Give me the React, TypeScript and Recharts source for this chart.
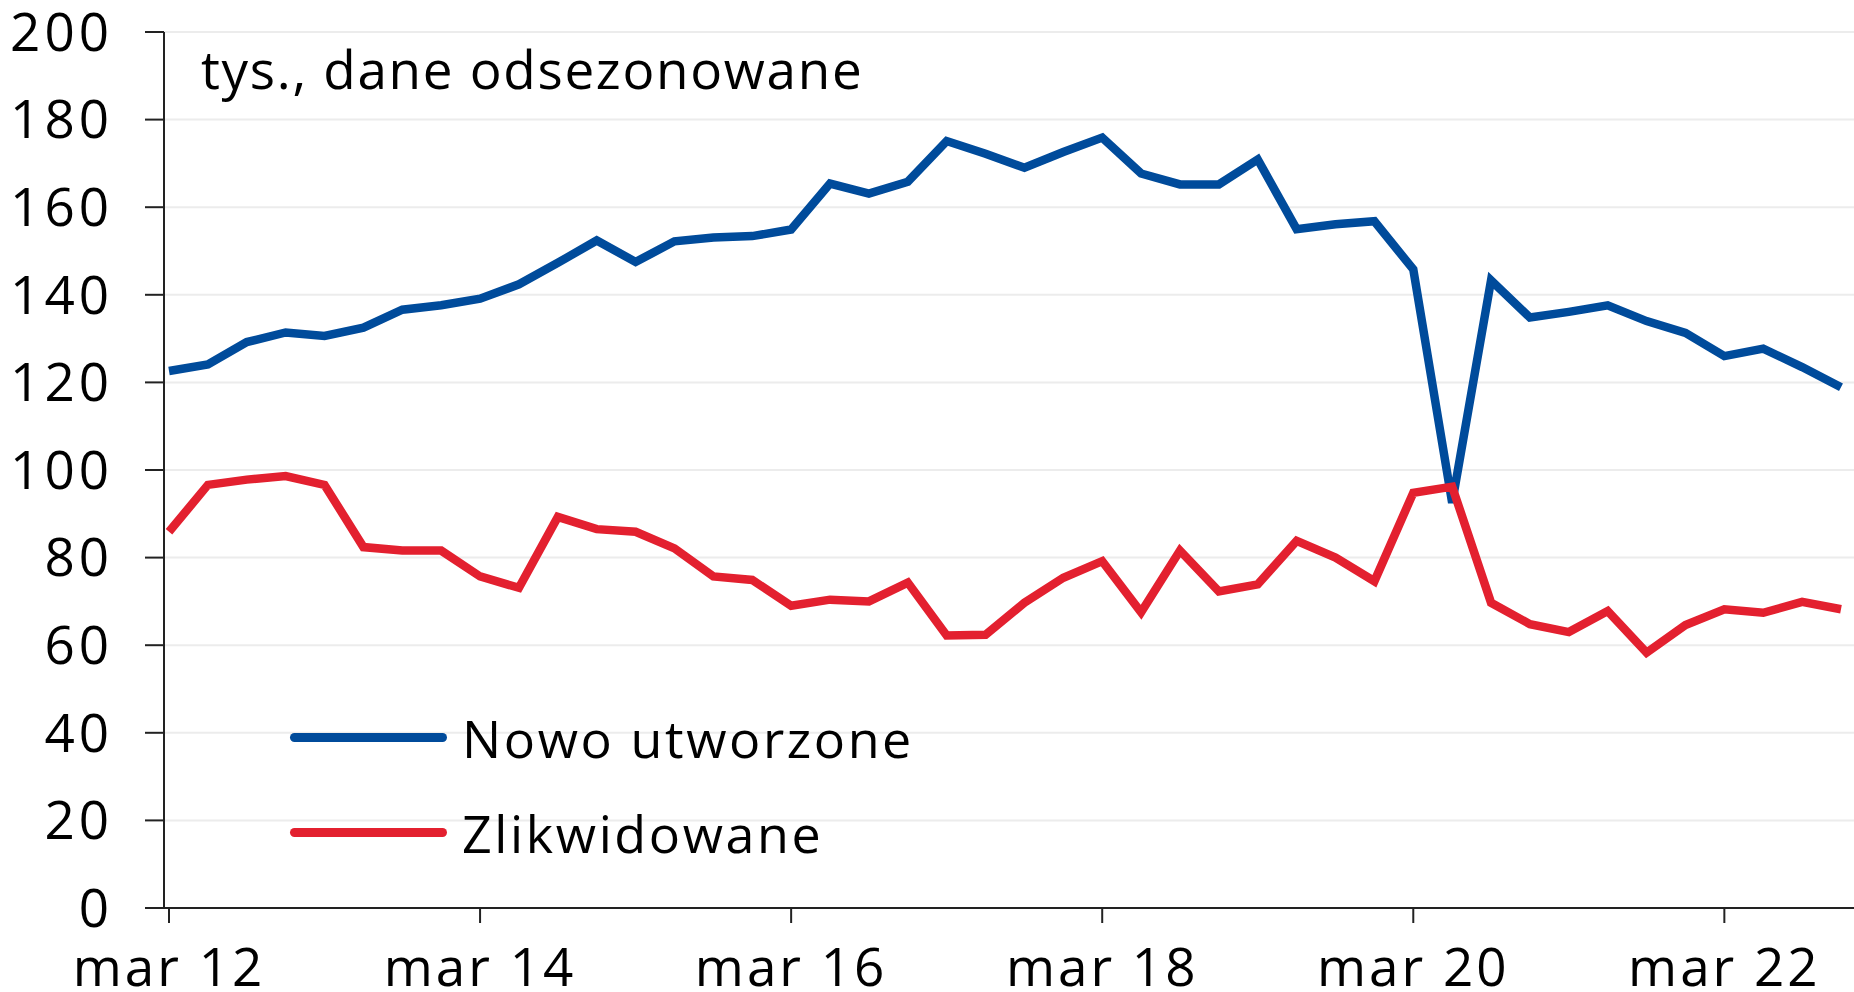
import { CartesianGrid, Legend, Line, LineChart, XAxis, YAxis } from "recharts";

// kwartały mar 12 .. gru 22
const QUARTERS = [
  "mar 12", "cze 12", "wrz 12", "gru 12",
  "mar 13", "cze 13", "wrz 13", "gru 13",
  "mar 14", "cze 14", "wrz 14", "gru 14",
  "mar 15", "cze 15", "wrz 15", "gru 15",
  "mar 16", "cze 16", "wrz 16", "gru 16",
  "mar 17", "cze 17", "wrz 17", "gru 17",
  "mar 18", "cze 18", "wrz 18", "gru 18",
  "mar 19", "cze 19", "wrz 19", "gru 19",
  "mar 20", "cze 20", "wrz 20", "gru 20",
  "mar 21", "cze 21", "wrz 21", "gru 21",
  "mar 22", "cze 22", "wrz 22", "gru 22",
];

const NOWO = [
  122.6, 124.1, 129.2, 131.4, 130.6, 132.5, 136.6, 137.6, 139.1, 142.4, 147.3,
  152.4, 147.5, 152.2, 153.1, 153.4, 154.9, 165.4, 163.1, 165.8, 175.1, 172.2,
  169.0, 172.6, 175.9, 167.7, 165.2, 165.2, 170.9, 155.0, 156.1, 156.8, 145.8,
  92.5, 143.3, 134.8, 136.1, 137.6, 134.0, 131.3, 126.0, 127.7, 123.5, 118.9,
];

const ZLIKWIDOWANE = [
  85.9, 96.6, 97.8, 98.6, 96.6, 82.4, 81.6, 81.6, 75.7, 73.1, 89.3,
  86.5, 85.9, 82.1, 75.7, 74.9, 69.0, 70.4, 70.0, 74.3, 62.2, 62.4,
  69.7, 75.4, 79.2, 67.5, 81.6, 72.3, 73.9, 83.8, 80.0, 74.6, 94.8,
  96.2, 69.7, 64.8, 63.0, 67.8, 58.3, 64.6, 68.2, 67.4, 69.9, 68.2,
];

const X_TICKS = ["mar 12", "mar 14", "mar 16", "mar 18", "mar 20", "mar 22"];
const Y_TICKS = [0, 20, 40, 60, 80, 100, 120, 140, 160, 180, 200];

const BLUE = "#004b9b";
const RED = "#e3202f";
const FONT = "'Open Sans', 'DejaVu Sans', sans-serif";

const data = QUARTERS.map((q, i) => ({
  q,
  nowo: NOWO[i],
  zlik: ZLIKWIDOWANE[i],
}));

function LegendContent({ payload }: { payload?: any[] }) {
  return (
    <div style={{ fontFamily: FONT, fontSize: 52, color: "#000", letterSpacing: 2.6 }}>
      {(payload ?? []).map((p) => (
        <div
          key={p.value}
          style={{ display: "flex", alignItems: "center", height: 95 }}
        >
          <span
            style={{
              display: "inline-block",
              width: 157,
              height: 9,
              borderRadius: 4.5,
              background: p.color,
            }}
          />
          <span style={{ marginLeft: 15, lineHeight: 1 }}>{p.value}</span>
        </div>
      ))}
    </div>
  );
}

export default function App() {
  const xTick = { fill: "#000", fontSize: 53, fontFamily: FONT, letterSpacing: 3 };
  const yTick = { fill: "#000", fontSize: 53, fontFamily: FONT, letterSpacing: 4 };
  return (
    <div style={{ position: "absolute", left: 0, top: 0, width: 1854, height: 992, background: "#fff" }}>
      <LineChart
        width={1854}
        height={992}
        data={data}
        margin={{ top: 32, right: 0, left: 0, bottom: 0 }}
      >
        <CartesianGrid vertical={false} stroke="#ececec" strokeWidth={2} />
        <XAxis
          dataKey="q"
          ticks={X_TICKS}
          interval={0}
          height={84}
          padding={{ left: 5, right: 13 }}
          tick={xTick}
          tickSize={15}
          tickMargin={25}
          axisLine={{ stroke: "#222", strokeWidth: 2 }}
          tickLine={{ stroke: "#222", strokeWidth: 2 }}
        />
        <YAxis
          width={164}
          domain={[0, 200]}
          ticks={Y_TICKS}
          interval={0}
          tick={yTick}
          tickSize={19}
          tickMargin={32}
          axisLine={{ stroke: "#222", strokeWidth: 2 }}
          tickLine={{ stroke: "#222", strokeWidth: 2 }}
        />
        <Legend
          layout="vertical"
          align="center"
          verticalAlign="middle"
          content={(props: any) => <LegendContent payload={props.payload} />}
          wrapperStyle={{ left: 290, top: 690, width: 760 }}
        />
        <Line
          name="Nowo utworzone"
          dataKey="nowo"
          stroke={BLUE}
          strokeWidth={8.5}
          dot={false}
          activeDot={false}
          isAnimationActive={false}
        />
        <Line
          name="Zlikwidowane"
          dataKey="zlik"
          stroke={RED}
          strokeWidth={8.5}
          dot={false}
          activeDot={false}
          isAnimationActive={false}
        />
      </LineChart>
      <div
        style={{
          position: "absolute",
          left: 201,
          top: 42,
          fontFamily: FONT,
          fontSize: 53,
          letterSpacing: 1.7,
          color: "#000",
          lineHeight: 1,
          whiteSpace: "nowrap",
        }}
      >
        tys., dane odsezonowane
      </div>
    </div>
  );
}
